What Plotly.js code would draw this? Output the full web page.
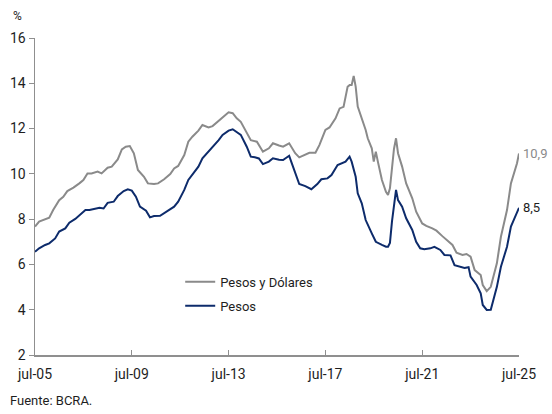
<!DOCTYPE html>
<html>
<head>
<meta charset="utf-8">
<script src="https://cdn.plot.ly/plotly-3.0.1.min.js"></script>
<style>
  body { margin: 0; background: #fff; }
  #chart { width: 552px; height: 414px; }
</style>
</head>
<body>
<div id="chart"></div>
<script>
// Pesos y Dólares (gris)
const datesTotal = [
  '2005-07', '2005-09', '2006-02', '2006-04', '2006-07', '2006-09', '2006-11', '2007-02',
  '2007-05', '2007-07', '2007-09', '2007-11', '2008-02', '2008-04', '2008-07', '2008-09',
  '2008-12', '2009-02', '2009-04', '2009-06', '2009-08', '2009-10', '2010-01', '2010-03',
  '2010-06', '2010-08', '2010-11', '2011-02', '2011-04', '2011-06', '2011-09', '2011-11',
  '2012-01', '2012-04', '2012-06', '2012-09', '2012-11', '2013-02', '2013-04', '2013-07',
  '2013-09', '2013-11', '2014-01', '2014-04', '2014-06', '2014-09', '2014-12', '2015-03',
  '2015-05', '2015-08', '2015-10', '2016-01', '2016-02', '2016-04', '2016-06', '2016-09',
  '2016-11', '2017-02', '2017-04', '2017-07', '2017-09', '2017-12', '2018-02', '2018-04',
  '2018-06', '2018-07', '2018-08', '2018-09', '2018-10', '2018-11', '2019-01', '2019-03',
  '2019-04', '2019-06', '2019-07', '2019-08', '2019-09', '2019-11', '2020-01', '2020-02',
  '2020-03', '2020-04', '2020-05', '2020-06', '2020-07', '2020-09', '2020-11', '2021-02',
  '2021-04', '2021-07', '2021-09', '2021-12', '2022-02', '2022-05', '2022-07', '2022-10',
  '2022-12', '2023-03', '2023-05', '2023-07', '2023-09', '2023-12', '2024-01', '2024-03',
  '2024-05', '2024-06', '2024-08', '2024-10', '2025-01', '2025-03', '2025-06', '2025-07'
];
const valuesTotal = [
  7.67, 7.89, 8.06, 8.40, 8.84, 8.99, 9.24, 9.39,
  9.58, 9.73, 10.02, 10.02, 10.10, 10.02, 10.27, 10.32,
  10.64, 11.08, 11.20, 11.23, 10.91, 10.17, 9.87, 9.58,
  9.55, 9.58, 9.76, 9.99, 10.24, 10.35, 10.83, 11.42,
  11.64, 11.91, 12.16, 12.05, 12.11, 12.35, 12.52, 12.72,
  12.68, 12.45, 12.30, 11.79, 11.49, 11.42, 10.98, 11.13,
  11.35, 11.25, 11.20, 11.35, 11.20, 10.91, 10.73, 10.83,
  10.93, 10.93, 11.27, 11.94, 12.05, 12.45, 12.89, 12.96,
  13.85, 13.92, 13.92, 14.32, 13.85, 12.97, 12.45, 11.94,
  11.57, 11.13, 10.54, 10.98, 10.54, 9.73, 9.21, 9.07,
  9.36, 10.40, 11.10, 11.57, 10.91, 10.32, 9.58, 8.92,
  8.33, 7.81, 7.70, 7.59, 7.49, 7.25, 7.08, 6.86,
  6.52, 6.42, 6.46, 6.34, 5.75, 5.53, 5.09, 4.82,
  5.01, 5.39, 6.05, 7.22, 8.40, 9.58, 10.47, 10.90
];

// Pesos (azul)
const datesPesos = [
  '2005-07', '2005-09', '2005-12', '2006-02', '2006-05', '2006-07', '2006-10', '2006-12',
  '2007-03', '2007-05', '2007-08', '2007-10', '2008-01', '2008-03', '2008-05', '2008-07',
  '2008-10', '2008-12', '2009-03', '2009-05', '2009-07', '2009-09', '2009-11', '2010-02',
  '2010-04', '2010-06', '2010-09', '2010-12', '2011-04', '2011-06', '2011-09', '2011-11',
  '2012-01', '2012-04', '2012-06', '2012-09', '2012-11', '2013-02', '2013-04', '2013-07',
  '2013-09', '2013-11', '2014-01', '2014-04', '2014-06', '2014-08', '2014-10', '2014-12',
  '2015-03', '2015-05', '2015-08', '2015-10', '2016-01', '2016-02', '2016-04', '2016-06',
  '2016-09', '2016-12', '2017-03', '2017-05', '2017-08', '2017-10', '2018-01', '2018-03',
  '2018-05', '2018-07', '2018-08', '2018-10', '2018-11', '2019-01', '2019-03', '2019-06',
  '2019-08', '2019-11', '2020-01', '2020-02', '2020-03', '2020-04', '2020-05', '2020-06',
  '2020-07', '2020-09', '2020-11', '2021-02', '2021-04', '2021-06', '2021-08', '2021-11',
  '2022-01', '2022-04', '2022-06', '2022-09', '2022-11', '2023-02', '2023-04', '2023-06',
  '2023-07', '2023-10', '2023-12', '2024-01', '2024-03', '2024-05', '2024-06', '2024-08',
  '2024-10', '2025-01', '2025-03', '2025-06', '2025-07'
];
const valuesPesos = [
  6.56, 6.71, 6.86, 6.93, 7.15, 7.45, 7.59, 7.84,
  8.01, 8.18, 8.40, 8.40, 8.45, 8.50, 8.47, 8.72,
  8.77, 9.02, 9.24, 9.32, 9.26, 8.99, 8.55, 8.37,
  8.08, 8.14, 8.15, 8.33, 8.55, 8.77, 9.29, 9.73,
  9.95, 10.32, 10.69, 10.98, 11.20, 11.49, 11.72, 11.91,
  11.97, 11.86, 11.72, 11.20, 10.76, 10.73, 10.68, 10.43,
  10.54, 10.69, 10.62, 10.61, 10.80, 10.54, 10.02, 9.55,
  9.46, 9.32, 9.55, 9.76, 9.80, 9.95, 10.39, 10.47,
  10.54, 10.76, 10.54, 9.87, 9.14, 8.70, 7.96, 7.37,
  7.00, 6.86, 6.78, 6.78, 6.95, 7.90, 8.70, 9.29,
  8.84, 8.55, 8.04, 7.52, 7.00, 6.71, 6.67, 6.71,
  6.78, 6.64, 6.42, 6.40, 5.97, 5.87, 5.84, 5.88,
  5.46, 5.09, 4.72, 4.21, 3.99, 4.00, 4.35, 5.01,
  5.90, 6.78, 7.67, 8.33, 8.50
];

const tickDates = ['2005-07-01', '2009-07-01', '2013-07-01', '2017-07-01', '2021-07-01', '2025-07-01'];
const tickLabels = ['jul-05', 'jul-09', 'jul-13', 'jul-17', 'jul-21', 'jul-25'];

const GRAY = '#8a8a8a';
const NAVY = '#0d2b6b';
const AXIS = '#8f8f8f';
const TEXT = '#1e1e1e';

const fmt = v => v.toFixed(1).replace('.', ',');

const traceTotal = {
  x: datesTotal,
  y: valuesTotal,
  type: 'scatter',
  mode: 'lines',
  name: 'Pesos y Dólares',
  legendgroup: 'a',
  line: { color: GRAY, width: 2 },
  hoverinfo: 'skip'
};

const tracePesos = {
  x: datesPesos,
  y: valuesPesos,
  type: 'scatter',
  mode: 'lines',
  name: 'Pesos',
  legendgroup: 'b',
  line: { color: NAVY, width: 2 },
  hoverinfo: 'skip'
};

const lastTotal = valuesTotal[valuesTotal.length - 1];
const lastPesos = valuesPesos[valuesPesos.length - 1];

const layout = {
  width: 552,
  height: 414,
  paper_bgcolor: '#FFFFFF',
  plot_bgcolor: '#FFFFFF',
  font: { family: 'Roboto, sans-serif', size: 14, color: TEXT },
  margin: { t: 38, r: 33, b: 59, l: 35 },
  showlegend: true,
  legend: {
    x: 0.30,
    y: 0.278,
    xanchor: 'left',
    yanchor: 'top',
    bgcolor: 'rgba(0,0,0,0)',
    traceorder: 'grouped',
    tracegroupgap: 4,
    itemwidth: 30,
    font: { family: 'Roboto, sans-serif', size: 13, color: TEXT }
  },
  xaxis: {
    type: 'date',
    range: ['2005-07-01', '2025-07-01'],
    tickvals: tickDates,
    ticktext: tickLabels,
    showgrid: false,
    zeroline: false,
    showline: true,
    linecolor: AXIS,
    linewidth: 1.5,
    ticks: 'inside',
    ticklen: 5,
    tickcolor: AXIS,
    ticklabelstandoff: 6,
    tickfont: { size: 14, color: TEXT }
  },
  yaxis: {
    range: [2, 16],
    dtick: 2,
    showgrid: false,
    zeroline: false,
    showline: true,
    linecolor: AXIS,
    linewidth: 1.5,
    ticks: 'outside',
    ticklen: 5,
    tickcolor: AXIS,
    tickfont: { size: 14, color: TEXT }
  },
  annotations: [
    {
      x: datesTotal[datesTotal.length - 1], y: lastTotal,
      text: fmt(lastTotal), showarrow: false,
      xanchor: 'left', xshift: 2, font: { size: 13, color: GRAY }
    },
    {
      x: datesPesos[datesPesos.length - 1], y: lastPesos,
      text: fmt(lastPesos), showarrow: false,
      xanchor: 'left', xshift: 2, font: { size: 13, color: TEXT }
    },
    {
      xref: 'paper', yref: 'paper', x: -0.05, y: 1.04,
      xanchor: 'left', yanchor: 'bottom',
      text: '%', showarrow: false, font: { size: 12, color: TEXT }
    },
    {
      xref: 'paper', yref: 'paper', x: -0.055, y: -0.115,
      xanchor: 'left', yanchor: 'top',
      text: 'Fuente: BCRA.', showarrow: false, font: { size: 13, color: TEXT }
    }
  ]
};

Plotly.newPlot('chart', [traceTotal, tracePesos], layout, { displayModeBar: false, staticPlot: true });
</script>
</body>
</html>
